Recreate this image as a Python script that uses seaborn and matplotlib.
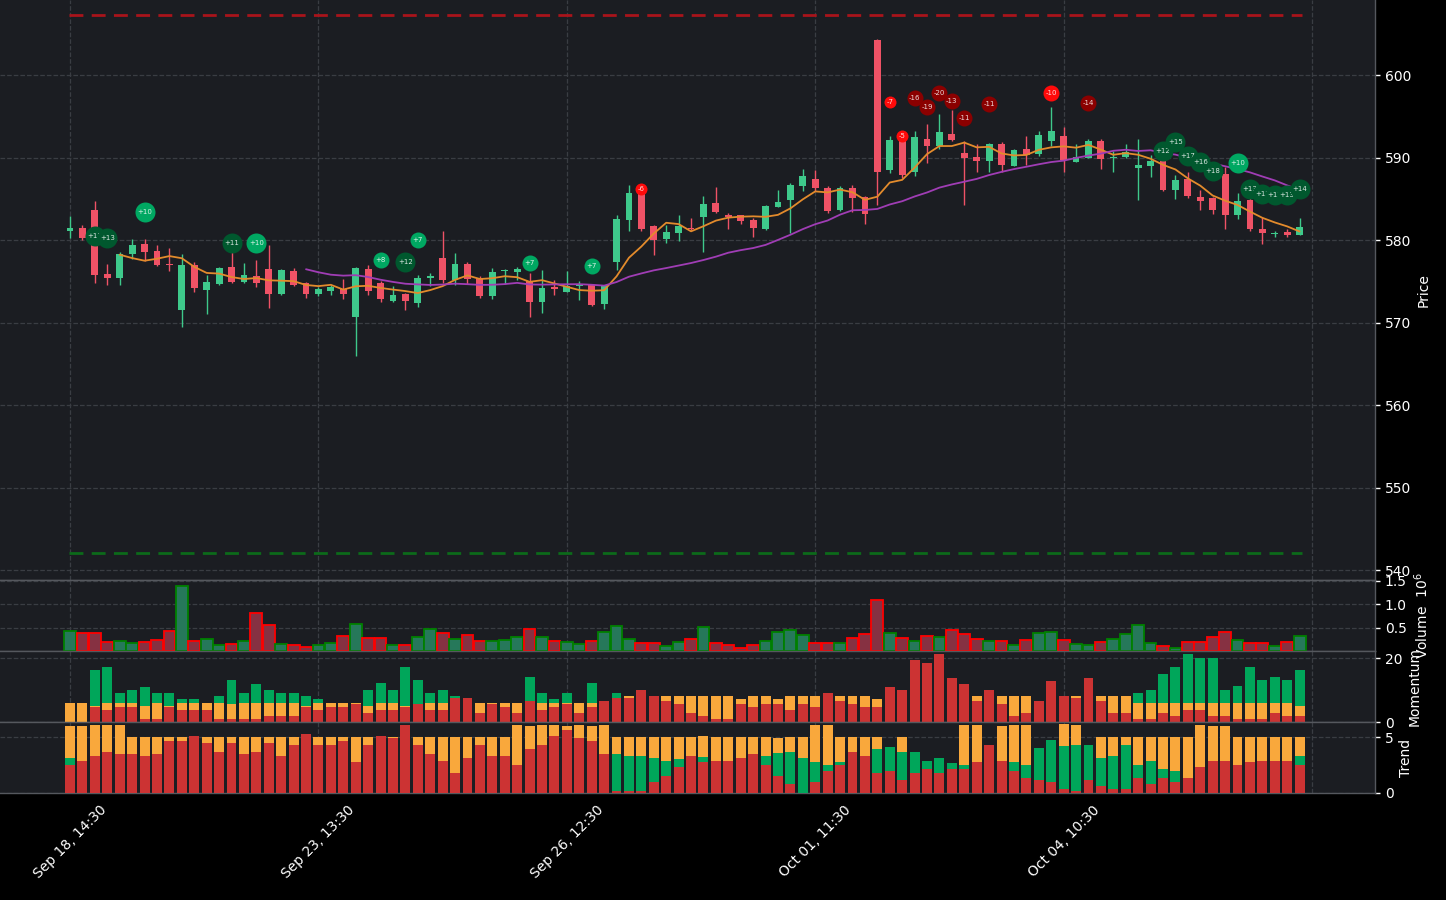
import numpy as np
import pandas as pd
import matplotlib
matplotlib.use("Agg")
import matplotlib.pyplot as plt
import seaborn as sns

# ---------------- data ----------------
opens = [581.1, 581.5, 583.6, 575.9, 575.4, 578.3, 579.5, 578.7, 577.1, 571.5,
         577.0, 573.9, 574.7, 576.7, 574.9, 575.6, 576.5, 573.5, 576.2, 574.8,
         573.5, 573.8, 574.1, 570.7, 576.5, 574.8, 572.6, 573.5, 572.4, 575.4,
         577.8, 575.2, 577.1, 575.4, 573.2, 576.3, 576.1, 575.0, 572.5, 574.3,
         573.7, 574.4, 574.5, 572.3, 577.3, 582.4, 585.7, 581.7, 580.1, 580.9,
         581.5, 582.8, 584.5, 583.0, 583.0, 582.4, 581.3, 584.0, 584.8, 586.6,
         587.4, 586.3, 583.6, 586.3, 585.2, 604.2, 588.5, 592.1, 588.3, 592.2,
         591.4, 592.8, 590.5, 590.1, 589.6, 591.6, 589.0, 591.0, 590.4, 592.0,
         592.6, 589.5, 590.0, 592.0, 590.0, 590.1, 588.7, 589.0, 589.7, 586.1,
         587.4, 585.2, 585.1, 588.0, 583.0, 584.9, 581.3, 580.7, 581.0, 580.6]
highs = [582.9, 581.8, 584.7, 577.1, 578.5, 580.1, 580.1, 579.4, 579.0, 578.3,
         577.4, 575.8, 576.7, 578.5, 577.2, 577.6, 579.4, 576.5, 576.6, 574.9,
         574.3, 574.5, 575.3, 576.7, 577.0, 575.0, 574.4, 573.6, 575.8, 576.0,
         581.1, 578.4, 577.3, 575.6, 576.6, 576.5, 576.7, 576.0, 576.4, 575.2,
         576.2, 575.0, 574.6, 574.6, 583.0, 586.7, 586.0, 581.8, 581.8, 583.1,
         582.7, 585.3, 586.4, 583.3, 583.1, 582.7, 584.2, 586.1, 586.9, 588.6,
         588.5, 586.5, 586.5, 586.7, 585.4, 604.4, 592.6, 592.3, 593.2, 594.1,
         595.3, 595.8, 592.0, 591.7, 591.8, 591.9, 591.1, 592.6, 593.2, 596.1,
         593.7, 591.7, 592.2, 592.2, 590.8, 591.6, 592.3, 590.3, 589.9, 587.9,
         588.3, 586.1, 585.2, 588.9, 585.7, 585.1, 582.8, 581.1, 581.3, 582.7]
lows = [580.2, 580.0, 574.8, 574.5, 574.5, 577.7, 577.5, 576.9, 576.2, 569.5,
        573.7, 571.0, 574.5, 574.8, 574.8, 574.3, 571.8, 573.4, 574.4, 573.0,
        573.2, 573.3, 572.8, 565.9, 573.4, 572.5, 572.5, 571.5, 571.9, 574.4,
        574.8, 574.5, 574.7, 573.0, 572.9, 574.7, 575.2, 570.7, 571.2, 573.3,
        573.7, 572.7, 572.0, 571.7, 576.4, 581.1, 581.1, 578.2, 579.7, 579.9,
        581.2, 578.6, 583.3, 581.4, 582.0, 580.4, 581.2, 584.0, 580.8, 586.0,
        585.9, 583.3, 583.5, 583.4, 581.9, 584.2, 588.1, 587.5, 587.8, 589.3,
        591.0, 592.0, 584.3, 588.2, 588.2, 588.2, 589.0, 589.1, 590.2, 591.4,
        588.3, 589.5, 589.9, 588.6, 588.3, 589.9, 584.9, 587.6, 586.0, 585.0,
        585.1, 583.6, 583.2, 581.4, 582.6, 581.1, 579.5, 580.4, 580.4, 580.6]
closes = [581.45, 580.2, 575.8, 575.4, 578.3, 579.4, 578.6, 577.0, 577.0, 577.0,
          574.2, 574.9, 576.6, 574.9, 575.8, 574.8, 573.5, 576.4, 574.6, 573.5,
          574.1, 574.3, 573.5, 576.6, 573.8, 572.8, 573.3, 572.6, 575.4, 575.6,
          575.2, 577.1, 575.3, 573.2, 576.1, 576.4, 576.5, 572.5, 574.2, 574.1,
          574.4, 574.5, 572.1, 574.5, 582.5, 585.7, 581.3, 580.0, 581.0, 581.7,
          581.3, 584.4, 583.4, 582.8, 582.3, 581.5, 584.1, 584.6, 586.7, 587.8,
          586.3, 583.5, 586.3, 585.1, 583.2, 588.2, 592.1, 587.9, 592.5, 591.4,
          593.1, 592.1, 590.0, 589.6, 591.7, 589.1, 590.9, 590.3, 592.7, 593.2,
          589.7, 590.1, 592.0, 589.8, 590.1, 590.7, 589.1, 589.6, 586.1, 587.3,
          585.3, 584.7, 583.6, 583.0, 584.7, 581.3, 580.9, 580.8, 580.6, 581.6]
volumes = [0.43, 0.39, 0.39, 0.19, 0.21, 0.17, 0.19, 0.24, 0.43, 1.39,
           0.21, 0.26, 0.13, 0.15, 0.21, 0.81, 0.56, 0.15, 0.13, 0.09,
           0.13, 0.17, 0.32, 0.58, 0.28, 0.28, 0.13, 0.13, 0.30, 0.47,
           0.39, 0.26, 0.34, 0.21, 0.21, 0.24, 0.30, 0.47, 0.30, 0.21,
           0.19, 0.15, 0.21, 0.41, 0.53, 0.26, 0.17, 0.17, 0.11, 0.19,
           0.26, 0.51, 0.17, 0.13, 0.06, 0.13, 0.21, 0.41, 0.45, 0.34,
           0.17, 0.17, 0.17, 0.28, 0.36, 1.09, 0.39, 0.28, 0.21, 0.32,
           0.30, 0.45, 0.36, 0.26, 0.21, 0.21, 0.13, 0.24, 0.39, 0.41,
           0.24, 0.15, 0.13, 0.19, 0.26, 0.36, 0.56, 0.17, 0.11, 0.06,
           0.19, 0.19, 0.30, 0.41, 0.24, 0.17, 0.17, 0.11, 0.19, 0.32]
mom_red = [0, 0, 4.6, 3.7, 4.6, 4.6, 0.8, 0.8, 4.6, 3.7,
           3.7, 3.7, 0.8, 0.8, 0.8, 0.8, 1.8, 1.8, 1.8, 4.6,
           3.7, 4.6, 4.6, 5.6, 2.7, 3.7, 3.7, 4.6, 5.6, 3.7,
           3.7, 7.5, 7.5, 2.7, 5.6, 4.6, 2.7, 6.5, 3.7, 4.6,
           5.6, 2.7, 4.6, 6.5, 7.5, 7.5, 10.0, 8.1, 6.5, 5.6,
           2.7, 1.8, 0.8, 0.8, 5.6, 4.6, 5.6, 5.6, 3.7, 5.6,
           4.6, 9.1, 6.5, 5.6, 4.6, 4.6, 10.9, 10.0, 19.5, 18.5,
           21.4, 13.8, 11.9, 6.5, 10.0, 5.6, 1.8, 2.7, 6.5, 12.8,
           8.1, 7.5, 13.8, 6.5, 2.7, 2.7, 0.8, 0.8, 2.7, 1.8,
           3.7, 3.7, 1.8, 1.8, 0.8, 0.8, 0.8, 2.7, 1.8, 1.8]
mom_orange = [5.9, 5.9, 0.3, 2.2, 1.3, 1.3, 4.1, 5.1, 0.3, 2.2,
              2.2, 2.2, 5.1, 4.9, 5.1, 5.1, 4.1, 4.1, 4.1, 0.3,
              2.2, 1.3, 1.3, 0.3, 2.2, 2.2, 2.2, 0.3, 0, 2.2,
              2.2, 0, 0, 3.2, 0.3, 1.3, 3.2, 0, 2.2, 1.3,
              0.3, 3.2, 1.3, 0, 0, 0.6, 0, 0, 1.6, 2.5,
              5.4, 6.3, 7.3, 7.3, 1.6, 3.5, 2.5, 1.6, 4.4, 2.5,
              3.5, 0, 1.6, 2.5, 3.5, 2.5, 0, 0, 0, 0,
              0, 0, 0, 1.6, 0, 2.5, 6.3, 5.4, 0, 0,
              0, 0.6, 0, 1.6, 5.4, 5.4, 5.1, 5.1, 3.2, 4.1,
              2.2, 2.2, 4.1, 4.1, 5.1, 5.1, 5.1, 3.2, 4.1, 3.2]
mom_green = [0, 0, 11.4, 11.4, 3.2, 4.1, 6.0, 3.2, 4.1, 1.3,
             1.3, 0, 2.2, 7.3, 3.2, 5.9, 4.1, 3.2, 3.2, 3.2,
             1.3, 0, 0, 0, 5.1, 6.3, 4.1, 12.3, 7.6, 3.2,
             4.1, 0.6, 0, 0, 0, 0, 0, 7.6, 3.2, 1.3,
             3.2, 0, 6.3, 0, 1.6, 0, 0, 0, 0, 0,
             0, 0, 0, 0, 0, 0, 0, 0, 0, 0,
             0, 0, 0, 0, 0, 0, 0, 0, 0, 0,
             0, 0, 0, 0, 0, 0, 0, 0, 0, 0,
             0, 0, 0, 0, 0, 0, 3.2, 4.1, 9.1, 11.4,
             15.5, 14.2, 14.2, 4.1, 5.5, 11.4, 7.3, 8.2, 7.3, 11.4]
trend_red = [2.5, 2.9, 3.3, 3.7, 3.5, 3.5, 3.3, 3.5, 4.6, 4.6,
             5.1, 4.5, 3.7, 4.5, 3.5, 3.7, 4.5, 3.3, 4.3, 5.3,
             4.3, 4.3, 4.6, 2.8, 4.3, 5.1, 4.9, 6.1, 4.3, 3.5,
             2.9, 1.8, 3.1, 4.3, 3.3, 3.3, 2.5, 3.9, 4.3, 5.1,
             5.6, 4.9, 4.6, 3.5, 0.2, 0.2, 0.2, 1.0, 1.5, 2.3,
             3.3, 2.8, 2.9, 2.9, 3.1, 3.5, 2.5, 1.5, 0.8, 0,
             1.0, 2.0, 2.5, 3.7, 3.3, 1.8, 2.0, 1.2, 1.8, 2.1,
             1.8, 2.1, 2.1, 2.8, 4.3, 2.9, 2.0, 1.3, 1.2, 1.0,
             0.4, 0.2, 1.2, 0.6, 0.4, 0.4, 1.3, 0.8, 1.3, 1.0,
             1.3, 2.3, 2.9, 2.9, 2.5, 2.8, 2.9, 2.9, 2.9, 2.5]
trend_green = [0.6, 0, 0, 0, 0, 0, 0, 0, 0, 0,
               0, 0, 0, 0, 0, 0, 0, 0, 0, 0,
               0, 0, 0, 0, 0, 0, 0, 0, 0, 0,
               0, 0, 0, 0, 0, 0, 0, 0, 0, 0,
               0, 0, 0, 0, 3.3, 3.1, 3.1, 2.1, 1.4, 0.7,
               0, 0.4, 0, 0, 0, 0, 0.8, 2.1, 2.9, 3.1,
               1.8, 0.5, 0.3, 0, 0, 2.1, 2.1, 2.5, 1.9, 0.8,
               1.3, 0.6, 0.4, 0, 0, 0, 0.8, 1.2, 2.8, 3.7,
               3.8, 4.1, 3.1, 2.5, 2.9, 3.9, 1.2, 2.1, 0.8, 1.0,
               0, 0, 0, 0, 0, 0, 0, 0, 0, 0.8]
trend_orange = [2.9, 3.1, 2.8, 2.4, 2.6, 1.5, 1.7, 1.5, 0.4, 0.4,
                0, 0.5, 1.3, 0.5, 1.5, 1.3, 0.5, 1.7, 0.7, 0,
                0.7, 0.7, 0.4, 2.2, 0.7, 0, 0.1, 0, 0.7, 1.5,
                2.1, 3.2, 1.9, 0.7, 1.7, 1.7, 3.6, 2.1, 1.8, 1.0,
                0.4, 1.2, 1.4, 2.6, 1.5, 1.7, 1.7, 1.9, 2.1, 2.0,
                1.7, 1.9, 2.1, 2.1, 1.9, 1.5, 1.7, 1.3, 1.3, 1.9,
                3.3, 3.6, 2.2, 1.3, 1.7, 1.1, 0, 1.3, 0, 0,
                0, 0, 3.6, 3.3, 0, 3.1, 3.3, 3.6, 0, 0,
                2.0, 1.8, 0, 1.9, 1.7, 0.7, 2.5, 2.1, 2.9, 3.0,
                3.7, 3.8, 3.1, 3.1, 2.5, 2.2, 2.1, 2.1, 2.1, 1.7]
signal_idx = [2, 3, 6, 13, 15, 25, 27, 28, 37, 42,
              46, 66, 67, 68, 69, 70, 71, 72, 74, 79,
              82, 88, 89, 90, 91, 92, 94, 95, 96, 97, 98, 99]
signal_price = [580.52, 580.21, 583.36, 579.67, 579.67, 577.54, 577.33, 580.04, 577.25, 576.85,
                586.18, 596.76, 592.64, 597.18, 596.16, 597.78, 596.88, 594.75, 596.45, 597.85,
                596.64, 590.82, 591.92, 590.18, 589.49, 588.40, 589.30, 586.15, 585.61, 585.49,
                585.45, 586.22]
signal_labels = ["+11", "+13", "+10", "+11", "+10", "+8", "+12", "+7", "+7", "+7",
                 "-6", "-7", "-5", "-16", "-19", "-20", "-13", "-11", "-11", "-10",
                 "-14", "+12", "+15", "+17", "+16", "+18", "+10", "+13", "+12", "+12",
                 "+13", "+14"]
tick_idx = [0, 20, 40, 60, 80, 100]
tick_labels = ["Sep 18, 14:30", "Sep 23, 13:30", "Sep 26, 12:30",
               "Oct 01, 11:30", "Oct 04, 10:30", ""]
resistance_level = 607.3
support_level = 542.1

# ---------------- style ----------------
sns.set_theme(style="dark")
plt.rcParams["font.family"] = ["DejaVu Sans"]

BG = "#1b1d22"
GRID = "#3a3d43"
SPINE = "#55585e"
C_UP = "#3ec98b"
C_DN = "#ef5266"
M_RED = "#cc3333"
M_ORG = "#f9a83c"
M_GRN = "#00a65a"

df = pd.DataFrame({"open": opens, "high": highs, "low": lows,
                   "close": closes, "volume": volumes})
df["x"] = np.arange(len(df))
df["up"] = df["close"] >= df["open"]
df["ma_short"] = df["close"].rolling(5).mean()
df["ma_long"] = df["close"].rolling(20).mean()

fig = plt.figure(figsize=(14.46, 9.0), dpi=100, facecolor="black")
W = 1375 / 1446


def rect(top, bottom):
    return [0.0, 1 - bottom / 900, W, (bottom - top) / 900]


ax_p = fig.add_axes(rect(0, 580))
ax_v = fig.add_axes(rect(580, 651), sharex=ax_p)
ax_m = fig.add_axes(rect(651, 722), sharex=ax_p)
ax_t = fig.add_axes(rect(722, 793), sharex=ax_p)
axes = [ax_p, ax_v, ax_m, ax_t]

for ax in axes:
    ax.set_facecolor(BG)
    ax.grid(True, linestyle="--", color=GRID, linewidth=0.9)
    ax.set_axisbelow(True)
    ax.yaxis.tick_right()
    ax.yaxis.set_label_position("right")
    for s in ax.spines.values():
        s.set_color(SPINE)
        s.set_linewidth(1.0)
    ax.spines["left"].set_visible(False)
    ax.tick_params(axis="y", colors="white", labelcolor="white",
                   labelsize=10, length=3.5, width=1, left=False, right=True)
    ax.tick_params(axis="x", colors="white", labelcolor="white",
                   labelsize=10, length=3.5, width=1)
ax_p.spines["top"].set_visible(False)

# ---------------- price ----------------
x = df["x"].to_numpy()
col = np.where(df["up"], C_UP, C_DN)
ax_p.vlines(x, df["low"], df["high"], colors=col, linewidth=1.0, zorder=2)
body = (df["close"] - df["open"]).abs().clip(lower=0.08)
bottom = df[["open", "close"]].min(axis=1)
ax_p.bar(x, body, bottom=bottom, width=0.55, color=col, linewidth=0, zorder=3)

sns.lineplot(data=df, x="x", y="ma_short", ax=ax_p, color="#e38b2c",
             linewidth=1.3, zorder=4)
sns.lineplot(data=df, x="x", y="ma_long", ax=ax_p, color="#a03db5",
             linewidth=1.3, zorder=4)

ax_p.axhline(resistance_level, color="#a8141b", linestyle=(0, (5, 3)),
             linewidth=2.0, xmin=0.05, xmax=0.947, zorder=2)
ax_p.axhline(support_level, color="#0c6a1a", linestyle=(0, (5, 3)),
             linewidth=2.0, xmin=0.05, xmax=0.947, zorder=2)

for k, (i, p, lab) in enumerate(zip(signal_idx, signal_price, signal_labels)):
    v = int(lab)
    if v > 0:
        c = "#00a862" if abs(v) <= 10 else "#00582e"
        r = 10 if abs(v) >= 10 else 8
    else:
        c = "#ff0a0a" if abs(v) <= 10 else "#8b0000"
        r = 8 if abs(v) >= 10 else 6
    s = (2 * r * 0.72) ** 2
    ax_p.scatter([i], [p], s=s, color=c, linewidths=0, zorder=10 + 2 * k)
    ax_p.text(i, p, lab, color="white", alpha=0.85, fontsize=5,
              ha="center", va="center", zorder=11 + 2 * k)

ax_p.set_ylim(538.8, 609.1)
ax_p.set_yticks([540, 550, 560, 570, 580, 590, 600])
ax_p.set_ylabel("Price", color="white", fontsize=10)
ax_p.set_xlabel("")

# ---------------- volume ----------------
vfill = np.where(df["up"], "#26785a", "#863142")
vedge = np.where(df["up"], "#008000", "#ff0000")
ax_v.bar(x, df["volume"], width=0.95, color=vfill, edgecolor=vedge,
         linewidth=1.3, zorder=3)
ax_v.set_ylim(0, 1.52)
ax_v.set_yticks([0.5, 1.0, 1.5])
ax_v.set_ylabel(r"Volume  $10^6$", color="white", fontsize=10)

# ---------------- momentum ----------------
mr = np.array(mom_red)
mo = np.array(mom_orange)
mg = np.array(mom_green)
ax_m.bar(x, mr, width=0.8, color=M_RED, linewidth=0, zorder=3)
ax_m.bar(x, mo, bottom=mr, width=0.8, color=M_ORG, linewidth=0, zorder=3)
ax_m.bar(x, mg, bottom=mr + mo, width=0.8, color=M_GRN, linewidth=0, zorder=3)
ax_m.set_ylim(0, 22.2)
ax_m.set_yticks([0, 20])
ax_m.set_ylabel("Momentum", color="white", fontsize=10)

# ---------------- trend ----------------
tr = np.array(trend_red)
tg = np.array(trend_green)
to = np.array(trend_orange)
ax_t.bar(x, tr, width=0.8, color=M_RED, linewidth=0, zorder=3)
ax_t.bar(x, tg, bottom=tr, width=0.8, color=M_GRN, linewidth=0, zorder=3)
ax_t.bar(x, to, bottom=tr + tg, width=0.8, color=M_ORG, linewidth=0, zorder=3)
ax_t.set_ylim(0, 6.34)
ax_t.set_yticks([0, 5])
ax_t.set_ylabel("Trend", color="white", fontsize=10)

# ---------------- x axis ----------------
ax_p.set_xlim(-5.64, 105.07)
ax_t.set_xticks(tick_idx)
ax_t.set_xticklabels(tick_labels, rotation=45, color="white", fontsize=10)
for ax in [ax_p, ax_v, ax_m]:
    ax.tick_params(axis="x", bottom=False, labelbottom=False)
    ax.set_xlabel("")
ax_t.set_xlabel("")

fig.savefig("out.png", dpi=100, facecolor="black")
